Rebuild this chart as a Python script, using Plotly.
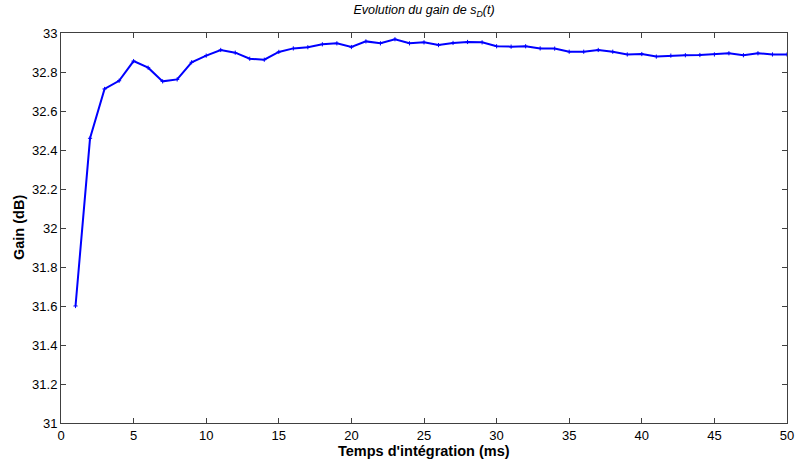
import plotly.graph_objects as go

t_ms = list(range(1, 51))
gain_db = [31.60, 32.46, 32.713, 32.755, 32.856, 32.822, 32.752, 32.762, 32.850, 32.884,
           32.913, 32.899, 32.868, 32.863, 32.903, 32.921, 32.927, 32.942, 32.947, 32.928,
           32.957, 32.947, 32.968, 32.947, 32.952, 32.938, 32.949, 32.954, 32.952, 32.932,
           32.930, 32.932, 32.921, 32.920, 32.904, 32.904, 32.913, 32.904, 32.890, 32.892,
           32.879, 32.884, 32.886, 32.887, 32.890, 32.896, 32.886, 32.896, 32.890, 32.890]

x_ticks = [0, 5, 10, 15, 20, 25, 30, 35, 40, 45, 50]
y_ticks = [31, 31.2, 31.4, 31.6, 31.8, 32, 32.2, 32.4, 32.6, 32.8, 33]
y_tick_text = ["31", "31.2", "31.4", "31.6", "31.8", "32", "32.2", "32.4", "32.6", "32.8", "33"]

W, H = 795, 464
L, R, T, B = 61, 8, 33, 41

fig = go.Figure()
fig.add_trace(go.Scatter(
    x=t_ms, y=gain_db, mode="lines+markers",
    line=dict(color="#0000ff", width=2),
    marker=dict(symbol="cross-thin", size=3, line=dict(color="#0000ff", width=1)),
    showlegend=False, hoverinfo="skip",
))

font_family = "Liberation Sans, Arial, sans-serif"
fig.update_layout(
    width=W, height=H,
    margin=dict(l=L, r=R, t=T, b=B, autoexpand=False),
    paper_bgcolor="white", plot_bgcolor="white",
    font=dict(family=font_family, size=13, color="black"),
    title=dict(text="<i>Evolution du gain de s<sub>D</sub>(t)</i>",
               x=(L + (W - L - R) / 2) / W, xanchor="center", y=1 - 10 / H, yanchor="middle",
               font=dict(size=12.5, family=font_family, color="black")),
    annotations=[
        dict(text="<b>Temps d'intégration (ms)</b>", xref="paper", yref="paper",
             x=0.5, y=-(451 - (H - B)) / (H - T - B), xanchor="center", yanchor="middle",
             showarrow=False, font=dict(size=14.5)),
        dict(text="<b>Gain (dB)</b>", xref="paper", yref="paper", textangle=-90,
             x=-(L - 19) / (W - L - R), y=0.5, xanchor="center", yanchor="middle",
             showarrow=False, font=dict(size=14.5)),
    ],
)
fig.update_xaxes(
    range=[0, 50], tickvals=x_ticks, ticks="inside", ticklen=5, tickcolor="#404040",
    showline=True, linecolor="#404040", linewidth=1, mirror="ticks", showgrid=False,
    zeroline=False, tickfont=dict(size=13), automargin=False,
)
fig.update_yaxes(
    range=[31, 33], tickvals=y_ticks, ticktext=y_tick_text, ticks="inside", ticklen=5,
    tickcolor="#404040", showline=True, linecolor="#404040", linewidth=1, mirror="ticks",
    showgrid=False, zeroline=False, tickfont=dict(size=13), automargin=False,
)
fig.write_html("out.html", config={"displayModeBar": False},
               post_script="document.body.style.margin='0';document.body.style.overflow='hidden';")
